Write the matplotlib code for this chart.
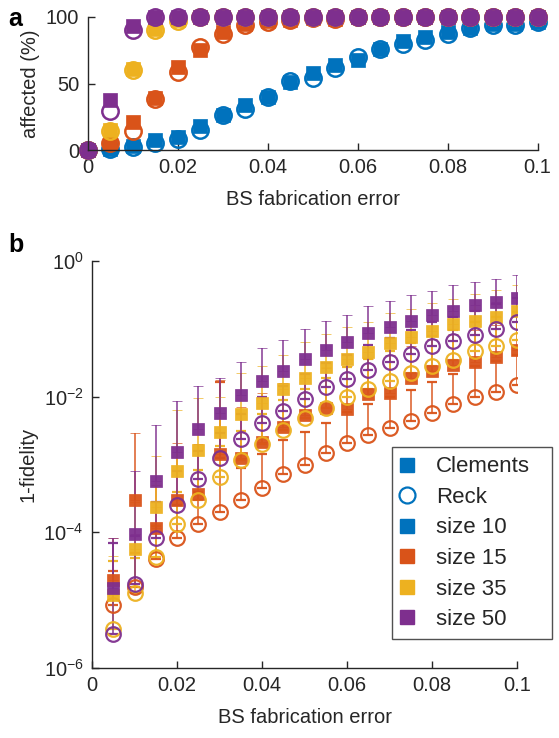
import numpy as np
import matplotlib
matplotlib.use("Agg")
import matplotlib.pyplot as plt
from matplotlib.lines import Line2D
from matplotlib.ticker import FixedLocator, LogFormatterSciNotation, NullLocator

plt.rcParams['font.family'] = ['Liberation Sans', 'DejaVu Sans']
plt.rcParams['mathtext.fontset'] = 'custom'
plt.rcParams['mathtext.rm'] = 'Liberation Sans'

BLUE = '#0072BD'
ORANGE = '#D95319'
YELLOW = '#EDB120'
PURPLE = '#7E2F8E'
AXC = '#262626'

# ---------------- panel a: fraction of affected devices ----------------
err_a = [0, 0.005, 0.01, 0.015, 0.02, 0.025, 0.03, 0.035, 0.04, 0.045, 0.05,
         0.055, 0.06, 0.065, 0.07, 0.075, 0.08, 0.085, 0.09, 0.095, 0.1]

aff_clem_10 = [0, 1, 3, 7.5, 10, 18, 26, 34, 40, 51, 58, 64, 68, 76, 82, 85, 89, 92, 95, 95, 96]
aff_reck_10 = [0, 0.5, 2, 5, 8, 15, 26, 31, 40, 52, 54, 62, 70, 76, 80, 83, 87, 92, 94, 94, 96]
aff_clem_15 = [0, 5, 21, 39, 62.5, 75, 88.5, 95, 97, 98, 99, 98.5, 100, 100, 100, 100, 100, 100, 100, 100, 100]
aff_reck_15 = [0, 5, 14.5, 38, 59, 77.5, 87.5, 94, 96, 98, 99, 98.5, 100, 100, 100, 100, 100, 100, 100, 100, 100]
aff_clem_35 = [0, 15, 61, 91, 98, 100, 100, 100, 100, 100, 100, 100, 100, 100, 100, 100, 100, 100, 100, 100, 100]
aff_reck_35 = [0, 14, 60, 90, 97, 100, 100, 100, 100, 100, 100, 100, 100, 100, 100, 100, 100, 100, 100, 100, 100]
aff_clem_50 = [0, 37.5, 93, 100, 100, 100, 100, 100, 100, 100, 100, 100, 100, 100, 100, 100, 100, 100, 100, 100, 100]
aff_reck_50 = [0, 29, 90, 100, 100, 100, 100, 100, 100, 100, 100, 100, 100, 100, 100, 100, 100, 100, 100, 100, 100]

# ---------------- panel b: infidelity (log10), mean and upper bound ----------------
err_b = [0.005, 0.01, 0.015, 0.02, 0.025, 0.03, 0.035, 0.04, 0.045, 0.05,
         0.055, 0.06, 0.065, 0.07, 0.075, 0.08, 0.085, 0.09, 0.095, 0.1]

clem15_log = [-4.70, -3.53, -3.93, -3.52, -3.44, -2.85, -2.90, -2.67, -2.44, -2.27,
              -2.17, -2.18, -1.96, -1.94, -1.73, -1.62, -1.53, -1.49, -1.41, -1.31]
clem15_up = [-4.09, -2.54, -3.30, -2.68, -2.70, -1.76, -2.15, -1.95, -1.80, -1.65,
             -1.58, -1.55, -1.45, -1.38, -1.25, -1.15, -1.08, -1.02, -0.95, -0.88]
reck15_log = [-5.07, -4.80, -4.39, -4.09, -3.87, -3.70, -3.52, -3.34, -3.14, -3.00,
              -2.83, -2.69, -2.57, -2.46, -2.36, -2.24, -2.11, -2.00, -1.93, -1.83]
reck15_up = [-4.57, -4.30, -3.90, -3.60, -3.40, -1.79, -3.05, -2.85, -2.64, -2.52,
             -2.39, -2.23, -2.11, -2.00, -1.90, -1.78, -1.66, -1.55, -1.48, -1.38]

clem35_log = [-4.93, -4.24, -3.63, -3.10, -2.78, -2.52, -2.25, -2.09, -1.89, -1.72,
              -1.57, -1.44, -1.34, -1.21, -1.12, -1.03, -0.93, -0.88, -0.82, -0.73]
clem35_up = [-4.35, -3.55, -2.88, -2.20, -2.02, -2.00, -1.65, -1.55, -1.38, -1.19,
             -1.07, -0.98, -0.90, -0.77, -0.71, -0.62, -0.56, -0.49, -0.43, -0.35]
reck35_log = [-5.43, -4.90, -4.36, -3.87, -3.53, -3.18, -2.94, -2.70, -2.49, -2.32,
              -2.17, -2.00, -1.89, -1.77, -1.65, -1.55, -1.46, -1.32, -1.26, -1.17]
reck35_up = [-4.42, -4.38, -3.90, -3.40, -3.08, -2.73, -2.50, -2.26, -2.05, -1.88,
             -1.73, -1.56, -1.45, -1.33, -1.21, -1.11, -1.02, -0.90, -0.83, -0.75]

clem50_log = [-4.82, -4.02, -3.24, -2.81, -2.47, -2.24, -1.97, -1.77, -1.62, -1.44,
              -1.31, -1.20, -1.06, -0.97, -0.885, -0.80, -0.74, -0.65, -0.60, -0.54]
clem50_up = [-4.09, -3.09, -2.42, -2.07, -1.84, -1.72, -1.49, -1.28, -1.17, -1.00,
             -0.885, -0.79, -0.67, -0.59, -0.50, -0.44, -0.36, -0.31, -0.26, -0.20]
reck50_log = [-5.50, -4.76, -4.09, -3.59, -3.21, -2.90, -2.63, -2.39, -2.21, -2.03,
              -1.86, -1.74, -1.60, -1.49, -1.37, -1.26, -1.18, -1.09, -1.00, -0.90]
reck50_up = [-4.15, -4.05, -3.55, -3.10, -2.80, -2.53, -2.25, -2.00, -1.84, -1.66,
             -1.50, -1.38, -1.24, -1.13, -1.01, -0.90, -0.82, -0.73, -0.64, -0.54]

size_labels = ['size 10', 'size 15', 'size 35', 'size 50']
size_colors = [BLUE, ORANGE, YELLOW, PURPLE]

FS = 14.5
W, H = 559, 738
fig = plt.figure(figsize=(W / 100, H / 100), dpi=100)


def style_axes(ax):
    for s in ('top', 'right'):
        ax.spines[s].set_visible(False)
    for s in ('left', 'bottom'):
        ax.spines[s].set_color(AXC)
        ax.spines[s].set_linewidth(1.0)
    ax.tick_params(direction='in', length=5, width=1.0, colors=AXC,
                   labelsize=FS, pad=6)


# ---- panel a ----
axa = fig.add_axes([87.5 / W, 1 - 150 / H, 450 / W, 133 / H])
style_axes(axa)
series_a = [(aff_clem_10, aff_reck_10, BLUE), (aff_clem_15, aff_reck_15, ORANGE),
            (aff_clem_35, aff_reck_35, YELLOW), (aff_clem_50, aff_reck_50, PURPLE)]
for clem, reck, col in series_a:
    axa.plot(err_a, clem, ls='none', marker='s', ms=10, mfc=col, mec=col,
             mew=0.5, clip_on=False)
    axa.plot(err_a, reck, ls='none', marker='o', ms=11.8, mfc='none', mec=col,
             mew=1.8, clip_on=False)
axa.set_xlim(0, 0.1)
axa.set_ylim(0, 100)
axa.set_xticks([0, 0.02, 0.04, 0.06, 0.08, 0.1])
axa.set_xticklabels(['0', '0.02', '0.04', '0.06', '0.08', '0.1'])
axa.set_yticks([0, 50, 100])
axa.set_xlabel('BS fabrication error', fontsize=FS, color=AXC, labelpad=9)
axa.set_ylabel('affected (%)', fontsize=FS, color=AXC, labelpad=4)
fig.text(8 / W, 1 - 26 / H, 'a', fontsize=18, fontweight='bold', color='black')

# ---- panel b ----
axb = fig.add_axes([92 / W, 1 - 668 / H, 425 / W, 407 / H])
style_axes(axb)
axb.set_yscale('log')
series_b = [(clem15_log, clem15_up, reck15_log, reck15_up, ORANGE),
            (clem35_log, clem35_up, reck35_log, reck35_up, YELLOW),
            (clem50_log, clem50_up, reck50_log, reck50_up, PURPLE)]
for cl, cu, rl, ru, col in series_b:
    cm = 10 ** np.array(cl)
    rm = 10 ** np.array(rl)
    c_err = [np.zeros_like(cm), 10 ** np.array(cu) - cm]
    r_err = [np.zeros_like(rm), 10 ** np.array(ru) - rm]
    axb.errorbar(err_b, cm, yerr=c_err, fmt='s', ms=8, mfc=col, mec=col,
                 mew=0.5, ecolor=col, elinewidth=1.1, capsize=3.6, capthick=1.2,
                 alpha=0.95)
    axb.errorbar(err_b, rm, yerr=r_err, fmt='o', ms=10.5, mfc='none', mec=col,
                 mew=1.6, ecolor=col, elinewidth=1.1, capsize=3.6, capthick=1.2,
                 alpha=0.95)
axb.set_xlim(0, 0.1)
axb.set_ylim(1e-6, 1)
axb.set_xticks([0, 0.02, 0.04, 0.06, 0.08, 0.1])
axb.set_xticklabels(['0', '0.02', '0.04', '0.06', '0.08', '0.1'])
axb.yaxis.set_major_locator(FixedLocator([1e-6, 1e-4, 1e-2, 1]))
axb.yaxis.set_minor_locator(NullLocator())
axb.yaxis.set_major_formatter(LogFormatterSciNotation())
axb.set_xlabel('BS fabrication error', fontsize=FS, color=AXC, labelpad=9)
axb.set_ylabel('1-fidelity', fontsize=FS, color=AXC, labelpad=4)
fig.text(8 / W, 1 - 252 / H, 'b', fontsize=18, fontweight='bold', color='black')

# legend: method markers in blue, then one coloured square per size
handles = [Line2D([], [], ls='none', marker='s', ms=9.5, mfc=BLUE, mec=BLUE),
           Line2D([], [], ls='none', marker='o', ms=11.5, mfc='none', mec=BLUE, mew=1.6)]
labels = ['Clements', 'Reck']
for lab, col in zip(size_labels, size_colors):
    handles.append(Line2D([], [], ls='none', marker='s', ms=9.5, mfc=col, mec=col))
    labels.append(lab)
leg = fig.legend(handles, labels, loc='upper left',
                 bbox_to_anchor=(392 / W, 96 / H, 160 / W, 195 / H),
                 bbox_transform=fig.transFigure, mode='expand',
                 fontsize=16, frameon=True, fancybox=False, borderaxespad=0,
                 handlelength=0.5, handletextpad=1.05, labelspacing=0.43,
                 borderpad=0.42)
leg.get_frame().set_edgecolor(AXC)
leg.get_frame().set_linewidth(1.0)
for t in leg.get_texts():
    t.set_color(AXC)

fig.savefig('out.png', dpi=100)
